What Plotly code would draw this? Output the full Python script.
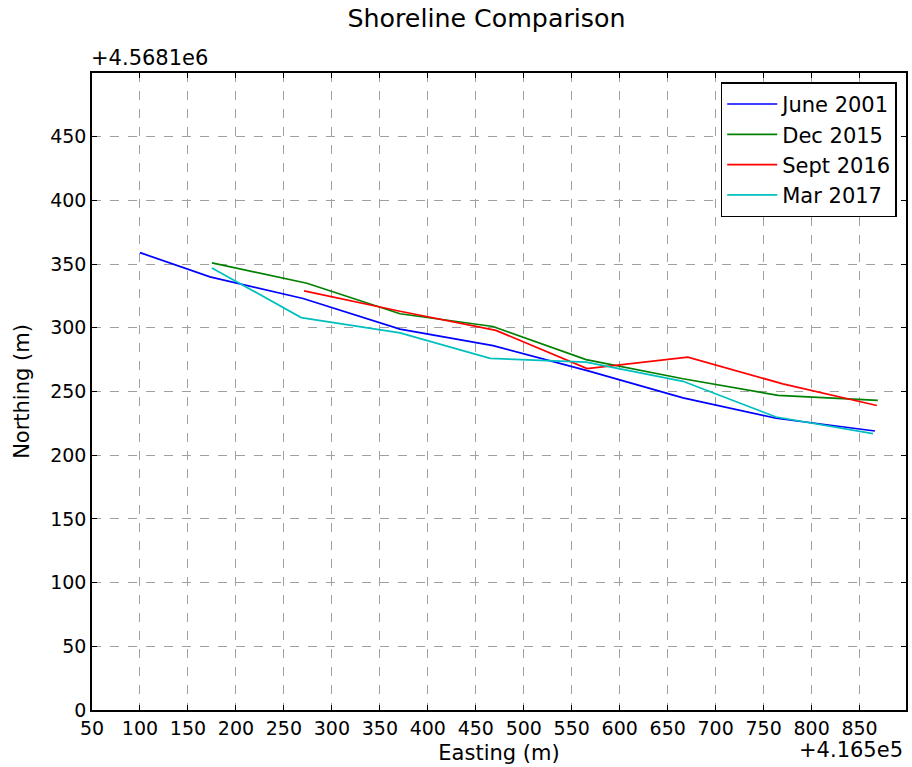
import plotly.graph_objects as go

# Offsets: Easting +4.165e5, Northing +4.5681e6 (values below are relative)
june2001_x = [100, 173, 270, 371, 468, 568, 666, 763, 866]
june2001_y = [359, 340, 323, 299, 286, 266, 245, 229, 219]

dec2015_x = [175, 274, 371, 468, 565, 666, 765, 869]
dec2015_y = [351, 335, 311, 301, 275, 260, 247, 243]

sept2016_x = [271, 371, 471, 566, 671, 770, 868]
sept2016_y = [329, 313, 298, 268, 277, 256, 239]

mar2017_x = [175, 268, 371, 465, 565, 666, 763, 864]
mar2017_y = [347, 308, 296, 276, 273, 258, 230, 217]

x_ticks = list(range(50, 851, 50))
y_ticks = list(range(0, 451, 50))

series = [
    ("June 2001", june2001_x, june2001_y, "#0000ff"),
    ("Dec 2015", dec2015_x, dec2015_y, "#008000"),
    ("Sept 2016", sept2016_x, sept2016_y, "#ff0000"),
    ("Mar 2017", mar2017_x, mar2017_y, "#00bfbf"),
]

FONT = "DejaVu Sans"
fig = go.Figure()
for name, xs, ys, col in series:
    fig.add_trace(go.Scatter(x=xs, y=ys, mode="lines", name=name,
                             line=dict(color=col, width=1.7)))

axis_common = dict(
    showline=True, linecolor="black", linewidth=1.5, mirror="ticks",
    ticks="inside", ticklen=5, tickcolor="black", tickwidth=1,
    showgrid=True, gridcolor="#a0a0a0", gridwidth=1, griddash="dash",
    zeroline=False, tickfont=dict(family=FONT, size=19, color="black"),
)

fig.update_xaxes(range=[50, 898.4], tickvals=x_ticks, ticktext=[str(v) for v in x_ticks],
                 title=dict(text="Easting (m)", font=dict(family=FONT, size=21, color="black"), standoff=8),
                 **axis_common)
fig.update_yaxes(range=[0, 500], tickvals=y_ticks, ticktext=[str(v) for v in y_ticks],
                 title=dict(text="Northing (m)", font=dict(family=FONT, size=21, color="black"), standoff=15),
                 **axis_common)

fig.update_layout(
    width=912, height=767,
    margin=dict(l=92, r=4, t=73, b=57),
    paper_bgcolor="white", plot_bgcolor="white",
    font=dict(family=FONT, color="black"),
    title=dict(text="Shoreline Comparison", x=486.5/912, xanchor="center",
               xref="container", y=1 - 18/767, yanchor="middle", yref="container",
               font=dict(family=FONT, size=25.3, color="black")),
    showlegend=True,
    legend=dict(x=0.9886, xanchor="right", y=0.9853, yanchor="top",
                bordercolor="black", borderwidth=1.5, bgcolor="white",
                font=dict(family=FONT, size=21, color="black"),
                itemwidth=50, entrywidth=186, entrywidthmode="pixels",
                tracegroupgap=0),
    annotations=[
        dict(text="+4.5681e6", xref="paper", yref="paper", x=0, y=1,
             xanchor="left", yanchor="bottom", yshift=1, xshift=-3, showarrow=False,
             font=dict(family=FONT, size=21, color="black")),
        dict(text="+4.165e5", xref="paper", yref="paper", x=1, y=0,
             xanchor="right", yanchor="middle", yshift=-40, xshift=-1, showarrow=False,
             font=dict(family=FONT, size=21, color="black")),
    ],
)

fig.write_html("out.html", config={"displayModeBar": False},
               post_script="document.body.style.margin='0px';")
